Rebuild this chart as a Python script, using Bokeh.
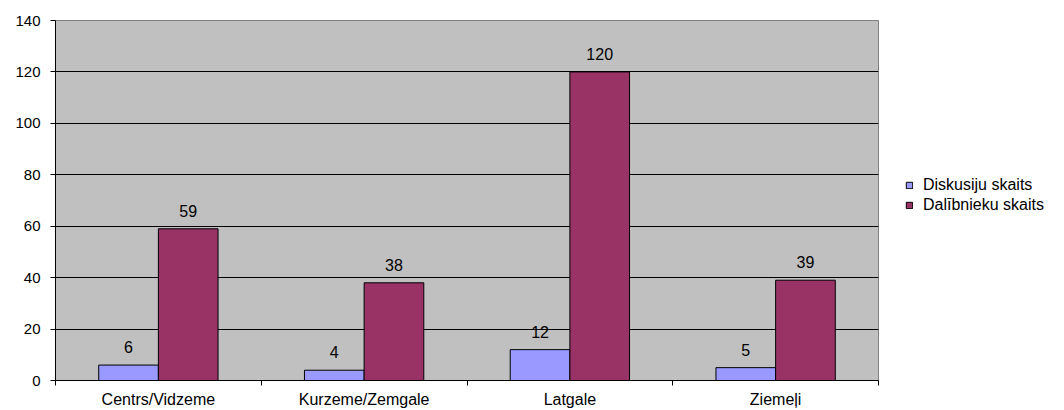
from bokeh.plotting import figure
from bokeh.layouts import row
from bokeh.models import Range1d, FixedTicker, ColumnDataSource, Legend, LegendItem
from bokeh.transform import dodge
from bokeh.core.properties import value
from bokeh.embed import file_html
from bokeh.resources import INLINE

categories = ["Centrs/Vidzeme", "Kurzeme/Zemgale", "Latgale", "Ziemeļi"]
diskusiju = [6, 4, 12, 5]
dalibnieku = [59, 38, 120, 39]
y_ticks = [0, 20, 40, 60, 80, 100, 120, 140]
series_names = ["Diskusiju skaits", "Dalībnieku skaits"]
colors = ["#9999FF", "#993366"]

FONT = "Liberation Sans"
pos = [i + 0.5 for i in range(len(categories))]
bounds = list(range(len(categories) + 1))

src = ColumnDataSource(dict(
    x=pos, d=diskusiju, p=dalibnieku,
    dl=[str(v) for v in diskusiju], pl=[str(v) for v in dalibnieku],
))

p = figure(width=879, height=410,
           x_range=Range1d(0, len(categories)), y_range=Range1d(y_ticks[0], y_ticks[-1]),
           output_backend="svg", toolbar_location=None,
           min_border_left=55, min_border_right=1, min_border_top=20, min_border_bottom=30)

p.background_fill_color = "#C0C0C0"
p.border_fill_color = "white"
p.outline_line_color = "#808080"
p.outline_line_width = 1

# x axis
p.xaxis.ticker = FixedTicker(ticks=pos, minor_ticks=bounds)
p.xaxis.major_label_overrides = {x: c for x, c in zip(pos, categories)}
p.xaxis.major_tick_out = 0
p.xaxis.major_tick_in = 0
p.xaxis.minor_tick_out = 5
p.xaxis.minor_tick_in = 0
p.xaxis.minor_tick_line_color = "black"
p.xaxis.axis_line_color = "black"
p.xaxis.major_label_standoff = 5
p.xaxis.major_label_text_font = FONT
p.xaxis.major_label_text_font_size = "16px"
p.xaxis.major_label_text_color = "black"

# y axis
p.yaxis.ticker = FixedTicker(ticks=y_ticks)
p.yaxis.major_tick_out = 5
p.yaxis.major_tick_in = 0
p.yaxis.minor_tick_line_color = None
p.yaxis.axis_line_color = "black"
p.yaxis.major_tick_line_color = "black"
p.yaxis.major_label_standoff = 10
p.yaxis.major_label_text_font = FONT
p.yaxis.major_label_text_font_size = "15px"
p.yaxis.major_label_text_color = "black"

p.xgrid.grid_line_color = None
p.ygrid.ticker = FixedTicker(ticks=y_ticks)
p.ygrid.grid_line_color = "black"
p.ygrid.grid_line_width = 1

off = 0.145
bw = 0.29
p.vbar(x=dodge("x", -off), top="d", width=bw, source=src,
       fill_color=colors[0], line_color="black", line_width=1)
p.vbar(x=dodge("x", off), top="p", width=bw, source=src,
       fill_color=colors[1], line_color="black", line_width=1)

p.text(x=dodge("x", -off), y="d", text="dl", source=src, text_align="center",
       text_baseline="alphabetic", y_offset=-18, text_font=value(FONT),
       text_font_size="16px", text_color="black")
p.text(x=dodge("x", off), y="p", text="pl", source=src, text_align="center",
       text_baseline="alphabetic", y_offset=-18, text_font=value(FONT),
       text_font_size="16px", text_color="black")

# legend panel (separate figure to the right of the plot)
lp = figure(width=185, height=410, x_range=Range1d(0, 1), y_range=Range1d(0, 1),
            output_backend="svg", toolbar_location=None,
            x_axis_location=None, y_axis_location=None,
            min_border_left=0, min_border_right=0, min_border_top=0, min_border_bottom=0)
lp.outline_line_color = None
lp.background_fill_color = "white"
lp.border_fill_color = "white"
lp.xgrid.visible = False
lp.ygrid.visible = False

# hidden copies of the two series, used only as legend keys
lr1 = lp.vbar(x="x", top="d", width=bw, source=src, visible=False,
              fill_color=colors[0], line_color="black", line_width=1)
lr2 = lp.vbar(x="x", top="p", width=bw, source=src, visible=False,
              fill_color=colors[1], line_color="black", line_width=1)

legend = Legend(items=[LegendItem(label=series_names[0], renderers=[lr1]),
                       LegendItem(label=series_names[1], renderers=[lr2])],
                location=(26, 165), padding=0, margin=0, spacing=0,
                glyph_width=8, glyph_height=8, label_standoff=10, label_height=20,
                border_line_color=None, background_fill_alpha=0,
                inactive_fill_alpha=0,
                label_text_font=FONT, label_text_font_size="16px",
                label_text_color="black")
lp.add_layout(legend)

layout = row(p, lp, spacing=0)
open("out.html", "w").write(file_html(layout, INLINE))
